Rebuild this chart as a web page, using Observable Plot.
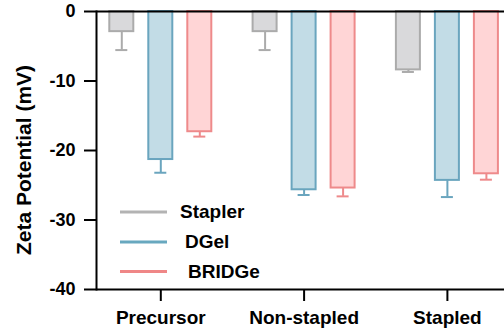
<!DOCTYPE html>
<html>
<head>
<meta charset="utf-8">
<script src="https://cdn.jsdelivr.net/npm/d3@7"></script>
<script src="https://cdn.jsdelivr.net/npm/@observablehq/plot@0.6"></script>
<style>
  html, body { margin: 0; padding: 0; background: #fff; }
  #chart svg { display: block; }
</style>
</head>
<body>
<div id="chart"></div>
<script>
// ---- data ----
const groups = ["Precursor", "Non-stapled", "Stapled"];
const seriesNames = ["Stapler", "DGel", "BRIDGe"];
const staplerMean = [-2.9, -2.9, -8.4];
const staplerErr = [2.65, 2.65, 0.3];
const dgelMean = [-21.3, -25.65, -24.3];
const dgelErr = [1.9, 0.75, 2.4];
const bridgeMean = [-17.3, -25.4, -23.35];
const bridgeErr = [0.7, 1.2, 0.85];
const yTicks = [0, -10, -20, -30, -40];
const yTitle = "Zeta Potential (mV)";

// ---- styles ----
const fills = ["#d9d9db", "#c2dce6", "#ffd5d6"];
const strokes = ["#ababab", "#6aa5be", "#ee8a8b"];
const legendColors = ["#b3b3b3", "#68a8bf", "#ef8787"];
const offsets = [-39, 0, 39];

const means = [staplerMean, dgelMean, bridgeMean];
const errs = [staplerErr, dgelErr, bridgeErr];
const rows = seriesNames.map((s, si) => groups.map((g, gi) => ({
  group: g, series: s, mean: means[si][gi], err: errs[si][gi]
})));

const W = 504, H = 333;
const mL = 96, mT = 11, mB = 44;
const step = 143.3, padIn = 0.1026;
const band = step * (1 - padIn);
const barW = 24, capW = 12;
const inset = (band - barW) / 2;
const capInset = (band - capW) / 2;

const marks = [];
rows.forEach((data, si) => {
  marks.push(Plot.barY(data, {
    x: "group", y1: 0, y2: "mean",
    fill: fills[si], stroke: strokes[si], strokeWidth: 2,
    insetLeft: inset, insetRight: inset, dx: offsets[si]
  }));
  marks.push(Plot.ruleX(data, {
    x: "group", y1: "mean", y2: d => d.mean - d.err,
    stroke: strokes[si], strokeWidth: 2, dx: offsets[si]
  }));
  marks.push(Plot.tickY(data, {
    x: "group", y: d => d.mean - d.err,
    stroke: strokes[si], strokeWidth: 2,
    insetLeft: capInset, insetRight: capInset, dx: offsets[si]
  }));
});
marks.push(Plot.ruleY([0], {stroke: "black", strokeWidth: 2.2}));
marks.push(Plot.ruleY([-40], {stroke: "black", strokeWidth: 2}));
marks.push(Plot.frame({anchor: "left", stroke: "black", strokeWidth: 2}));
marks.push(Plot.axisY({
  ticks: yTicks, tickSize: 12, tickPadding: 9, strokeWidth: 2,
  fontSize: 18, fontWeight: "bold", label: null, tickFormat: d => String(d)
}));
marks.push(Plot.axisX({
  tickSize: 12, tickPadding: 9, strokeWidth: 2,
  fontSize: 19, fontWeight: "bold", label: null
}));

const svg = Plot.plot({
  width: W, height: H,
  marginLeft: mL, marginRight: 0, marginTop: mT, marginBottom: mB,
  style: {fontFamily: "'Liberation Sans', Arial, sans-serif", fontWeight: "bold", color: "black", background: "white", overflow: "visible"},
  x: {type: "band", domain: groups, range: [mL, mL + step * (3 - padIn)], paddingInner: padIn, paddingOuter: 0, round: false, axis: null},
  y: {domain: [-40, 0], axis: null},
  marks
});
document.getElementById("chart").appendChild(svg);

// ---- y title & legend ----
const s = d3.select(svg);
s.append("text")
  .attr("transform", "translate(31,160) rotate(-90)")
  .attr("text-anchor", "middle")
  .attr("font-size", 21).attr("font-weight", "bold").attr("fill", "black")
  .text(yTitle);

const legendX = [180, 185, 188];
const legendY = [212, 242, 271.5];
const lg = s.append("g").attr("text-anchor", "start");
seriesNames.forEach((name, i) => {
  lg.append("line")
    .attr("x1", 120).attr("x2", 167).attr("y1", legendY[i]).attr("y2", legendY[i])
    .attr("stroke", legendColors[i]).attr("stroke-width", 3);
  lg.append("text")
    .attr("x", legendX[i]).attr("y", legendY[i] + 6)
    .attr("text-anchor", "start")
    .attr("font-size", 19).attr("font-weight", "bold").attr("fill", "black")
    .text(name);
});
</script>
</body>
</html>
